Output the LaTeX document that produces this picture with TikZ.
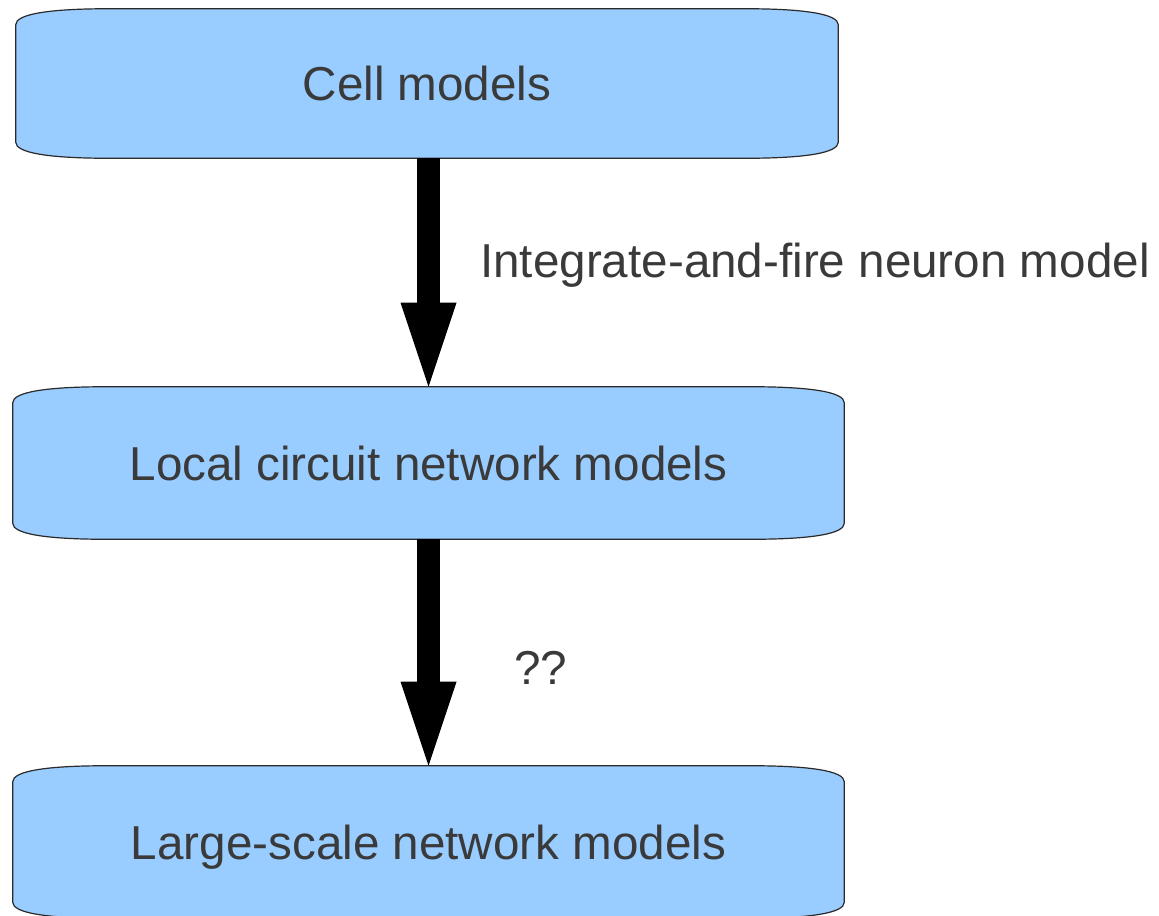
\documentclass[tikz,border=0pt]{standalone}
\usepackage{fontspec}
\setmainfont{Liberation Sans}
\usetikzlibrary{arrows.meta,calc,backgrounds}
\definecolor{boxfill}{HTML}{99CCFF}
\definecolor{txtgray}{HTML}{3A3A3A}
\definecolor{edgegray}{HTML}{2A2A2A}
\newcommand\tapeshape[1]{%
  \path[boxshape] let \p1=(#1.north west), \p2=(#1.south east) in
    (\x1,\y1-12pt) -- (\x1,\y2+12pt)
    .. controls (\x1,\y2+4pt) and (\x1+25pt,\y2) .. (\x1+70pt,\y2)
    -- (\x2-70pt,\y2)
    .. controls (\x2-25pt,\y2) and (\x2,\y2+4pt) .. (\x2,\y2+12pt)
    -- (\x2,\y1-12pt)
    .. controls (\x2,\y1-4pt) and (\x2-25pt,\y1) .. (\x2-70pt,\y1)
    -- (\x1+70pt,\y1)
    .. controls (\x1+25pt,\y1) and (\x1,\y1-4pt) .. cycle;}
\begin{document}
\begin{tikzpicture}[x=0.75pt,y=-0.75pt,
  boxnode/.style={inner sep=0pt, text=txtgray,
    font=\fontsize{35.7pt}{42pt}\selectfont,
    text height=25.5pt, text depth=0pt},
  boxshape/.style={fill=boxfill, draw=edgegray, line width=0.9pt},
  bigarrow/.style={line width=16.9pt,
    -{Triangle[width=42pt,length=63pt,line width=0pt]}},
  lbl/.style={inner sep=0pt, text=txtgray, anchor=base west,
    font=\fontsize{35.7pt}{42pt}\selectfont}]
\clip (0,0) rectangle (1159,915);
\node[boxnode, minimum width=822*0.75pt, minimum height=149*0.75pt] (c1) at (427,83.5) {Cell models};
\node[boxnode, minimum width=831*0.75pt, minimum height=152*0.75pt] (c2) at (428.5,463) {Local circuit network models};
\node[boxnode, minimum width=831*0.75pt, minimum height=152*0.75pt] (c3) at (428.5,842) {Large-scale network models};
\begin{scope}[on background layer]
  \fill[white] (0,0) rectangle (1159,915);
  \tapeshape{c1}
  \tapeshape{c2}
  \tapeshape{c3}
\end{scope}
\draw[bigarrow] (c1.south -| c2.north) -- (c2.north);
\draw[bigarrow] (c2.south) -- (c3.north);
\node[lbl] (l1) at (480,277) {Integrate-and-fire neuron model};
\node[lbl] (l2) at (514,684) {??};
\end{tikzpicture}
\end{document}
